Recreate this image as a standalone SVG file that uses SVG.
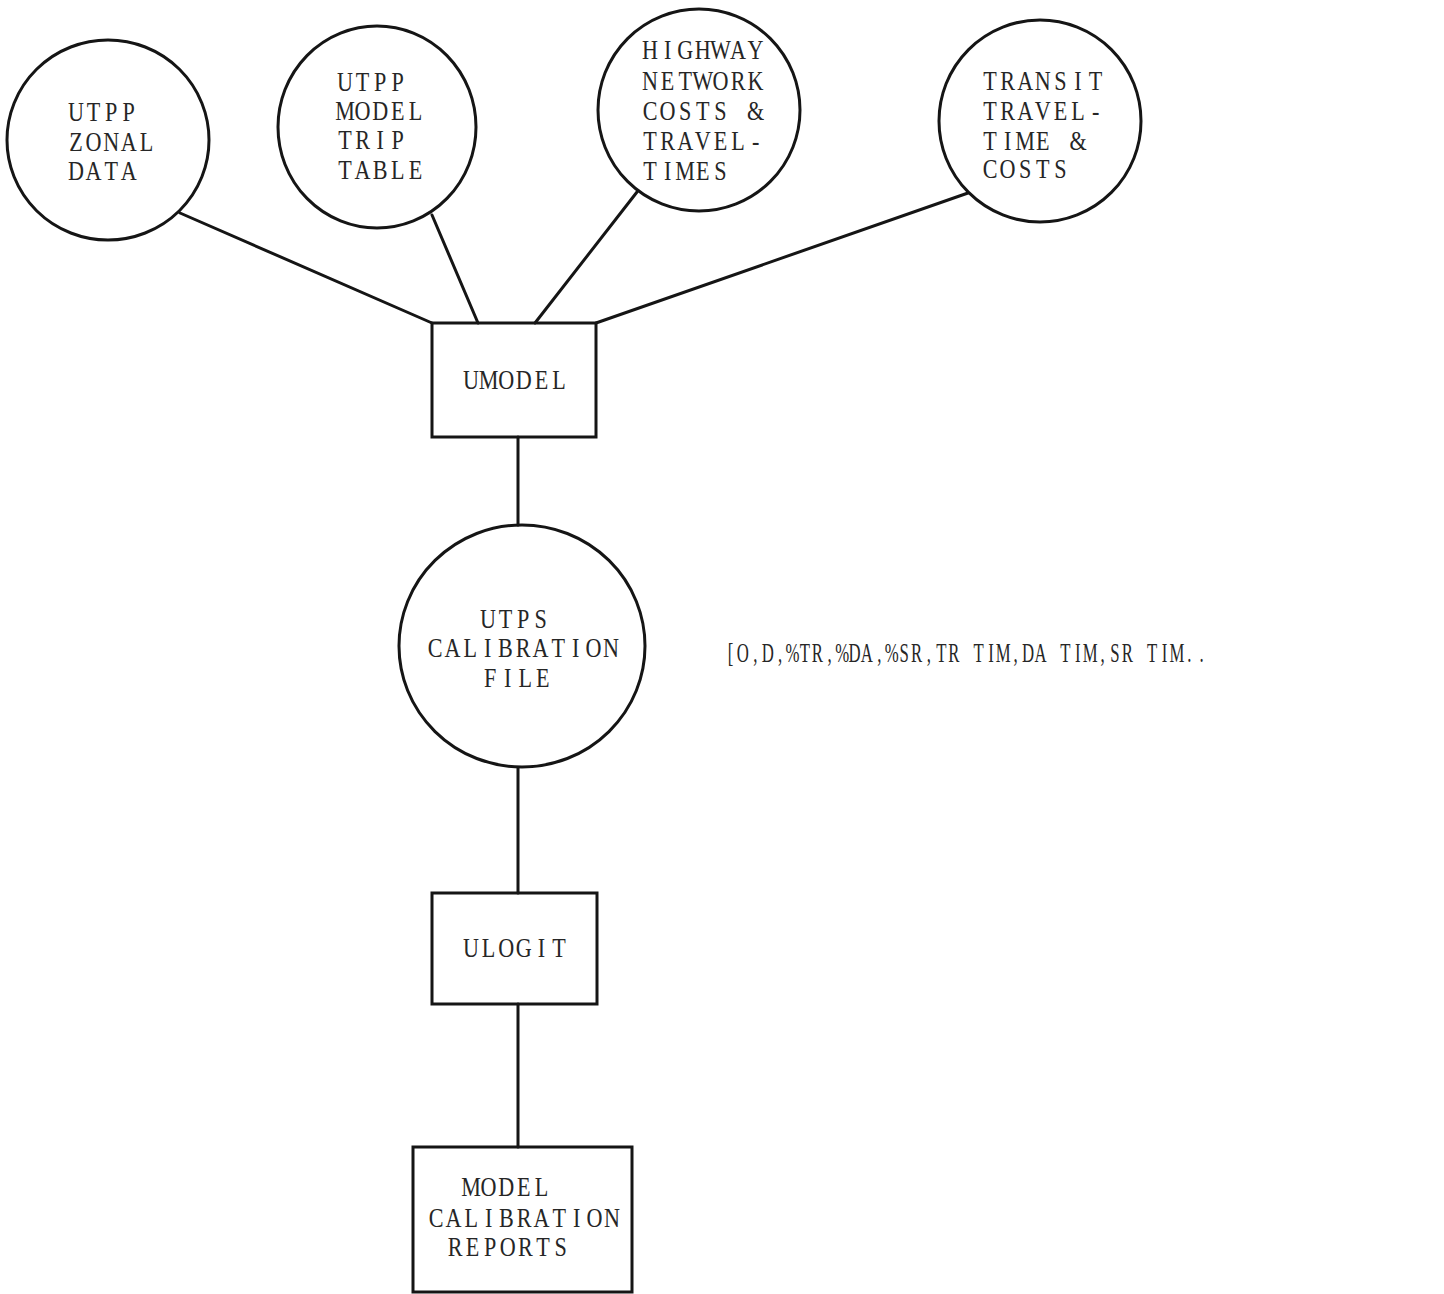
<svg xmlns="http://www.w3.org/2000/svg" width="1444" height="1294" viewBox="0 0 1444 1294">
  <style>
    .shape { fill: none; stroke: #151515; stroke-width: 3; }
    .conn line { stroke: #151515; stroke-width: 3; stroke-linecap: round; }
    /* typewriter lettering: each character sits centred in a fixed-pitch cell */
    text { font-family: "Liberation Serif", "DejaVu Serif", serif; font-size: 27px; fill: #262626; text-anchor: middle; }
  </style>
  <rect width="1444" height="1294" fill="#ffffff"/>

  <!-- connectors -->
  <g id="connectors" class="conn">
    <line x1="180" y1="213" x2="432" y2="323"/>
    <line x1="432" y1="215" x2="478" y2="323"/>
    <line x1="637" y1="192" x2="535" y2="323"/>
    <line x1="968" y1="193" x2="596" y2="323"/>
    <line x1="518" y1="437" x2="518" y2="525"/>
    <line x1="518" y1="768" x2="518" y2="893"/>
    <line x1="518" y1="1004" x2="518" y2="1147"/>
  </g>

  <!-- data stores (circles) -->
  <g id="zonal-data">
    <ellipse class="shape" cx="108" cy="140" rx="101" ry="100"/>
    <g transform="translate(68,0) scale(0.82,1)">
      <text x="9.8 31.2 52.7 74.1 95.6 117.1 138.5" y="121">UTPP</text>
      <text x="9.8 31.2 52.7 74.1 95.6 117.1 138.5" y="151">ZONAL</text>
      <text x="9.8 31.2 52.7 74.1 95.6 117.1 138.5" y="180">DATA</text>
    </g>
  </g>

  <g id="trip-table">
    <ellipse class="shape" cx="377" cy="127" rx="99" ry="101"/>
    <g transform="translate(337,0) scale(0.82,1)">
      <text x="9.8 31.2 52.7 74.1 95.6 117.1 138.5" y="91">UTPP</text>
      <text x="9.8 31.2 52.7 74.1 95.6 117.1 138.5" y="120">MODEL</text>
      <text x="9.8 31.2 52.7 74.1 95.6 117.1 138.5" y="149">TRIP</text>
      <text x="9.8 31.2 52.7 74.1 95.6 117.1 138.5" y="179">TABLE</text>
    </g>
  </g>

  <g id="highway-network">
    <circle class="shape" cx="699" cy="110" r="101"/>
    <g transform="translate(642,0) scale(0.82,1)">
      <text x="9.8 31.2 52.7 74.1 95.6 117.1 138.5" y="59">HIGHWAY</text>
      <text x="9.8 31.2 52.7 74.1 95.6 117.1 138.5" y="90">NETWORK</text>
      <text x="9.8 31.2 52.7 74.1 95.6 117.1 138.5" y="120">COSTS &amp;</text>
      <text x="9.8 31.2 52.7 74.1 95.6 117.1 138.5" y="150">TRAVEL-</text>
      <text x="9.8 31.2 52.7 74.1 95.6 117.1 138.5" y="180">TIMES</text>
    </g>
  </g>

  <g id="transit-times">
    <circle class="shape" cx="1040" cy="121" r="101"/>
    <g transform="translate(982,0) scale(0.82,1)">
      <text x="9.8 31.2 52.7 74.1 95.6 117.1 138.5" y="90">TRANSIT</text>
      <text x="9.8 31.2 52.7 74.1 95.6 117.1 138.5" y="120">TRAVEL-</text>
      <text x="9.8 31.2 52.7 74.1 95.6 117.1 138.5" y="150">TIME &amp;</text>
      <text x="9.8 31.2 52.7 74.1 95.6 117.1 138.5" y="178">COSTS</text>
    </g>
  </g>

  <!-- programs (boxes) -->
  <g id="umodel">
    <rect class="shape" x="432" y="323" width="164" height="114"/>
    <g transform="translate(463,0) scale(0.82,1)">
      <text x="9.8 31.2 52.7 74.1 95.6 117.1" y="389">UMODEL</text>
    </g>
  </g>

  <g id="calibration-file">
    <ellipse class="shape" cx="522" cy="646" rx="123" ry="121"/>
    <g transform="translate(480,0) scale(0.82,1)">
      <text x="9.8 31.2 52.7 74.1" y="628">UTPS</text>
    </g>
    <g transform="translate(427,0) scale(0.82,1)">
      <text x="9.8 31.2 52.7 74.1 95.6 117.1 138.5 160 181.4 202.9 224.4" y="657">CALIBRATION</text>
    </g>
    <g transform="translate(482,0) scale(0.82,1)">
      <text x="9.8 31.2 52.7 74.1" y="687">FILE</text>
    </g>
  </g>

  <g id="file-fields" transform="translate(725,0) scale(0.62,1)">
    <text x="8.9 28.9 48.9 68.9 88.9 108.9 128.9 148.9 168.9 188.9 208.9 228.9 248.9 268.9 288.9 308.9 328.9 348.9 368.9 388.9 408.9 428.9 448.9 468.9 488.9 508.9 528.9 548.9 568.9 588.9 608.9 628.9 648.9 668.9 688.9 708.9 728.9 748.9 768.9" y="662">[O,D,%TR,%DA,%SR,TR TIM,DA TIM,SR TIM..</text>
  </g>

  <g id="ulogit">
    <rect class="shape" x="432" y="893" width="165" height="111"/>
    <g transform="translate(463,0) scale(0.82,1)">
      <text x="9.8 31.2 52.7 74.1 95.6 117.1" y="957">ULOGIT</text>
    </g>
  </g>

  <g id="calibration-reports">
    <rect class="shape" x="413" y="1147" width="219" height="145"/>
    <g transform="translate(463,0) scale(0.82,1)">
      <text x="9.8 31.2 52.7 74.1 95.6" y="1196">MODEL</text>
    </g>
    <g transform="translate(428,0) scale(0.82,1)">
      <text x="9.8 31.2 52.7 74.1 95.6 117.1 138.5 160 181.4 202.9 224.4" y="1227">CALIBRATION</text>
    </g>
    <g transform="translate(447,0) scale(0.82,1)">
      <text x="9.8 31.2 52.7 74.1 95.6 117.1 138.5" y="1256">REPORTS</text>
    </g>
  </g>
</svg>
